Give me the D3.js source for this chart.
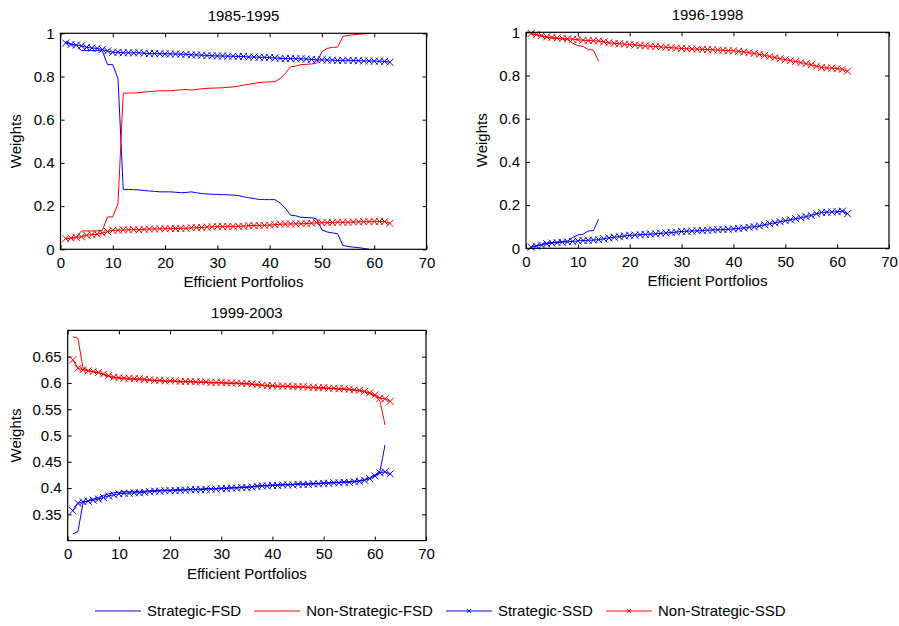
<!DOCTYPE html>
<html><head><meta charset="utf-8">
<script src="https://cdn.jsdelivr.net/npm/d3@7/dist/d3.min.js"></script>
<style>
body{margin:0;background:#fff}
text{font-family:Arial,"Liberation Sans",sans-serif;fill:#000}
</style>
</head><body>
<svg id="chart" width="899" height="626"></svg>
<script>
// ---------------- data ----------------
const titles = ["1985-1995", "1996-1998", "1999-2003"];
const seriesNames = ["Strategic-FSD", "Non-Strategic-FSD", "Strategic-SSD", "Non-Strategic-SSD"];
const xLabel = "Efficient Portfolios";
const yLabel = "Weights";
const xTicks = [0, 10, 20, 30, 40, 50, 60, 70];
const yTicksTop = [0, 0.2, 0.4, 0.6, 0.8, 1];
const yTicksBottom = [0.35, 0.4, 0.45, 0.5, 0.55, 0.6, 0.65];

// Panel 1: 1985-1995 (values for portfolios 1..n)
const p1StrategicFSD = [0.962,0.950,0.945,0.920,0.920,0.920,0.920,0.918,0.855,0.855,0.790,0.277,0.277,0.276,0.275,0.272,0.270,0.268,0.266,0.266,0.266,0.264,0.262,0.263,0.266,0.262,0.258,0.256,0.255,0.254,0.253,0.252,0.251,0.249,0.243,0.239,0.235,0.231,0.230,0.230,0.230,0.215,0.190,0.158,0.155,0.148,0.147,0.146,0.140,0.090,0.080,0.076,0.072,0.018,0.013,0.010,0.008,0.004,0.000];
const p1NonStrategicFSD = [0.048,0.050,0.055,0.085,0.085,0.085,0.085,0.087,0.150,0.150,0.212,0.723,0.723,0.724,0.725,0.728,0.730,0.732,0.734,0.734,0.734,0.736,0.738,0.740,0.737,0.740,0.743,0.745,0.746,0.747,0.748,0.750,0.752,0.755,0.760,0.764,0.768,0.772,0.774,0.775,0.776,0.790,0.815,0.845,0.848,0.855,0.856,0.858,0.862,0.915,0.930,0.935,0.936,0.985,0.990,0.993,0.995,0.998,1.000];
const p1StrategicSSD = [0.955,0.948,0.945,0.942,0.935,0.932,0.930,0.925,0.918,0.912,0.912,0.910,0.910,0.909,0.910,0.908,0.906,0.906,0.905,0.905,0.904,0.904,0.903,0.903,0.900,0.900,0.899,0.897,0.896,0.895,0.895,0.894,0.894,0.893,0.893,0.890,0.890,0.889,0.889,0.888,0.886,0.884,0.883,0.883,0.882,0.882,0.881,0.879,0.877,0.877,0.876,0.876,0.874,0.875,0.875,0.874,0.873,0.872,0.872,0.871,0.871,0.870,0.866];
const p1NonStrategicSSD = [0.050,0.052,0.055,0.058,0.065,0.068,0.070,0.075,0.082,0.088,0.088,0.090,0.090,0.091,0.090,0.092,0.094,0.094,0.095,0.095,0.096,0.096,0.097,0.097,0.100,0.100,0.101,0.103,0.104,0.105,0.105,0.106,0.106,0.107,0.107,0.110,0.110,0.111,0.111,0.112,0.114,0.116,0.117,0.117,0.118,0.118,0.119,0.121,0.123,0.123,0.124,0.124,0.126,0.125,0.125,0.126,0.127,0.128,0.128,0.129,0.129,0.128,0.120];

// Panel 2: 1996-1998
const p2StrategicFSD = [0.008,0.012,0.018,0.024,0.027,0.029,0.031,0.034,0.050,0.062,0.065,0.080,0.082,0.135];
const p2NonStrategicFSD = [0.992,0.988,0.982,0.976,0.973,0.971,0.969,0.966,0.950,0.938,0.935,0.920,0.918,0.865];
const p2StrategicSSD = [0.006,0.010,0.015,0.021,0.024,0.026,0.028,0.030,0.032,0.034,0.036,0.037,0.038,0.040,0.044,0.048,0.051,0.054,0.057,0.060,0.061,0.063,0.064,0.066,0.067,0.069,0.071,0.073,0.075,0.078,0.079,0.080,0.081,0.082,0.084,0.085,0.086,0.087,0.088,0.090,0.092,0.094,0.097,0.100,0.104,0.109,0.114,0.118,0.123,0.128,0.132,0.137,0.142,0.147,0.152,0.160,0.166,0.167,0.168,0.169,0.172,0.160];
const p2NonStrategicSSD = [0.995,0.990,0.985,0.979,0.976,0.974,0.972,0.970,0.968,0.966,0.963,0.962,0.961,0.960,0.956,0.952,0.949,0.947,0.945,0.943,0.941,0.939,0.937,0.936,0.934,0.932,0.931,0.929,0.927,0.925,0.924,0.923,0.922,0.921,0.920,0.919,0.918,0.917,0.915,0.914,0.912,0.909,0.906,0.902,0.898,0.893,0.888,0.883,0.878,0.873,0.869,0.865,0.860,0.855,0.850,0.843,0.837,0.835,0.834,0.832,0.829,0.820];

// Panel 3: 1999-2003
const p3StrategicFSD = [0.313,0.317,0.372,0.376,0.379,0.382,0.386,0.389,0.391,0.392,0.393,0.393,0.393,0.394,0.394,0.395,0.395,0.396,0.396,0.396,0.397,0.397,0.397,0.398,0.398,0.398,0.399,0.399,0.399,0.400,0.400,0.401,0.401,0.402,0.402,0.403,0.404,0.405,0.405,0.406,0.406,0.407,0.407,0.407,0.408,0.408,0.408,0.409,0.409,0.410,0.410,0.411,0.411,0.412,0.412,0.413,0.414,0.416,0.420,0.425,0.432,0.482];
const p3NonStrategicFSD = [0.688,0.685,0.628,0.624,0.621,0.619,0.616,0.612,0.610,0.609,0.608,0.607,0.607,0.606,0.606,0.605,0.604,0.604,0.603,0.603,0.603,0.602,0.602,0.602,0.601,0.601,0.601,0.600,0.600,0.600,0.599,0.599,0.599,0.598,0.598,0.597,0.596,0.595,0.594,0.594,0.593,0.593,0.593,0.592,0.592,0.592,0.591,0.591,0.590,0.590,0.589,0.589,0.588,0.588,0.587,0.586,0.585,0.583,0.580,0.575,0.566,0.520];
const p3StrategicSSD = [0.357,0.371,0.374,0.375,0.377,0.379,0.382,0.385,0.387,0.389,0.390,0.390,0.391,0.391,0.392,0.393,0.394,0.394,0.395,0.395,0.395,0.396,0.396,0.397,0.397,0.397,0.398,0.398,0.398,0.399,0.399,0.400,0.400,0.401,0.401,0.402,0.403,0.404,0.404,0.405,0.405,0.406,0.406,0.406,0.407,0.407,0.407,0.408,0.408,0.409,0.409,0.410,0.410,0.411,0.411,0.412,0.413,0.415,0.418,0.423,0.429,0.431,0.427];
const p3NonStrategicSSD = [0.644,0.628,0.625,0.623,0.622,0.620,0.617,0.614,0.611,0.610,0.609,0.609,0.608,0.608,0.607,0.606,0.605,0.605,0.604,0.604,0.604,0.603,0.603,0.603,0.602,0.602,0.602,0.601,0.601,0.601,0.600,0.600,0.600,0.599,0.599,0.598,0.597,0.596,0.595,0.595,0.594,0.594,0.594,0.593,0.593,0.593,0.592,0.592,0.591,0.591,0.590,0.590,0.589,0.589,0.588,0.587,0.586,0.584,0.581,0.577,0.571,0.570,0.565];

// ---------------- layout & style ----------------
const colors = ["#0000ff", "#ff0000", "#0000ff", "#ff0000"];
const hasMarker = [false, false, true, true];
const FS = "15px";

const panels = [
  {title: titles[0], x0: 60.5, x1: 426.5, y0: 33.3, y1: 249.3, yDomain: [0, 1], yTicks: yTicksTop,
   series: [p1StrategicFSD, p1NonStrategicFSD, p1StrategicSSD, p1NonStrategicSSD], yLabX: 21},
  {title: titles[1], x0: 526, x1: 889, y0: 32.3, y1: 248.3, yDomain: [0, 1], yTicks: yTicksTop,
   series: [p2StrategicFSD, p2NonStrategicFSD, p2StrategicSSD, p2NonStrategicSSD], yLabX: 487},
  {title: titles[2], x0: 67.7, x1: 426, y0: 330.4, y1: 540.6, yDomain: [0.3, 0.7], yTicks: yTicksBottom,
   series: [p3StrategicFSD, p3NonStrategicFSD, p3StrategicSSD, p3NonStrategicSSD], yLabX: 21}
];

const svg = d3.select("#chart");
const fmt = d => String(+d.toFixed(2));
const xPath = s => `M${-s},${-s}L${s},${s}M${-s},${s}L${s},${-s}`;

panels.forEach(p => {
  const g = svg.append("g");
  const x = d3.scaleLinear().domain([0, 70]).range([p.x0, p.x1]);
  const y = d3.scaleLinear().domain(p.yDomain).range([p.y1, p.y0]);
  const tl = 4;

  const axB = d3.axisBottom(x).tickValues(xTicks).tickSize(-tl).tickPadding(8).tickFormat(d3.format("d"));
  const axT = d3.axisTop(x).tickValues(xTicks).tickSize(-tl).tickFormat("");
  const axL = d3.axisLeft(y).tickValues(p.yTicks).tickSize(-tl).tickPadding(6).tickFormat(fmt);
  const axR = d3.axisRight(y).tickValues(p.yTicks).tickSize(-tl).tickFormat("");

  [[axB, `translate(0,${p.y1})`], [axT, `translate(0,${p.y0})`],
   [axL, `translate(${p.x0},0)`], [axR, `translate(${p.x1},0)`]].forEach(([ax, tr]) => {
    const a = g.append("g").attr("transform", tr).call(ax);
    a.select(".domain").remove();
    a.selectAll("line").attr("stroke", "#000").attr("stroke-width", 1);
    a.selectAll("text").style("font-size", FS).attr("fill", "#000");
  });

  const line = d3.line().x((d, i) => x(i + 1)).y(d => y(d));
  p.series.forEach((vals, si) => {
    g.append("path").datum(vals).attr("d", line)
      .attr("fill", "none").attr("stroke", colors[si]).attr("stroke-width", 1);
    if (hasMarker[si]) {
      g.append("g").selectAll("path").data(vals).join("path")
        .attr("transform", (d, i) => `translate(${x(i + 1)},${y(d)})`)
        .attr("d", xPath(3.5)).attr("fill", "none")
        .attr("stroke", colors[si]).attr("stroke-width", 1);
    }
  });

  g.append("rect").attr("x", p.x0).attr("y", p.y0)
    .attr("width", p.x1 - p.x0).attr("height", p.y1 - p.y0)
    .attr("fill", "none").attr("stroke", "#000").attr("stroke-width", 1.2);

  const cx = (p.x0 + p.x1) / 2;
  g.append("text").attr("x", cx).attr("y", p.y0 - 12).attr("text-anchor", "middle")
    .style("font-size", FS).text(p.title);
  g.append("text").attr("x", cx).attr("y", p.y1 + 38).attr("text-anchor", "middle")
    .style("font-size", FS).text(xLabel);
  g.append("text").attr("transform", `translate(${p.yLabX},${(p.y0 + p.y1) / 2}) rotate(-90)`)
    .attr("text-anchor", "middle").style("font-size", FS).text(yLabel);
});

// legend
const leg = svg.append("g");
let lx = 95;
const ly = 611;
seriesNames.forEach((name, i) => {
  leg.append("line").attr("x1", lx).attr("x2", lx + 46).attr("y1", ly).attr("y2", ly)
    .attr("stroke", colors[i]).attr("stroke-width", 1);
  if (hasMarker[i]) {
    leg.append("path").attr("transform", `translate(${lx + 23},${ly})`).attr("d", xPath(2))
      .attr("fill", "none").attr("stroke", colors[i]).attr("stroke-width", 1);
  }
  const t = leg.append("text").attr("x", lx + 52).attr("y", ly + 5).style("font-size", FS).text(name);
  lx += 52 + t.node().getComputedTextLength() + 13;
});
</script>
</body></html>
